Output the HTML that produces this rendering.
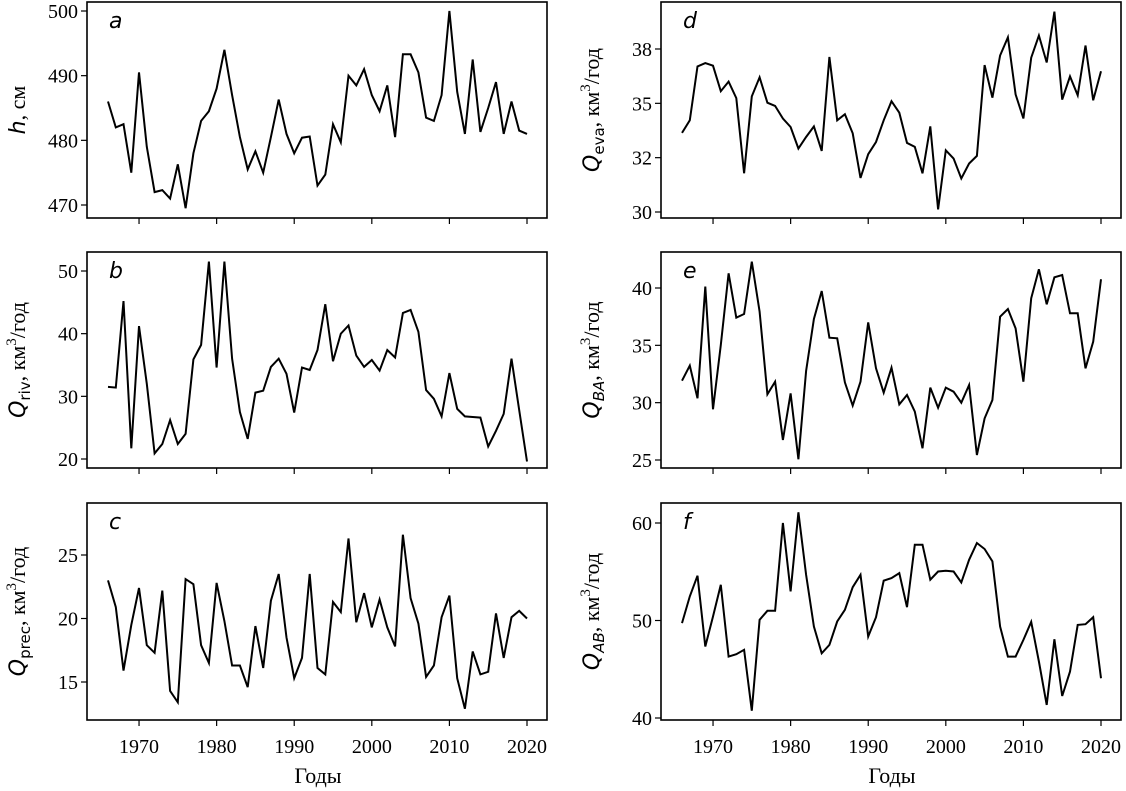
<!DOCTYPE html>
<html><head><meta charset="utf-8"><style>
html,body{margin:0;padding:0;background:#fff;}
svg{display:block;}
.tk{font-family:"Liberation Serif",serif;font-size:20px;fill:#000;}
.lt{font-family:"DejaVu Sans",sans-serif;font-style:italic;font-size:22px;fill:#000;}
.yl{font-family:"Liberation Serif",serif;font-size:22px;fill:#000;}
.yi{font-family:"DejaVu Sans",sans-serif;font-style:italic;}
</style></head><body>
<svg id="chart" width="1126" height="791" xmlns="http://www.w3.org/2000/svg"></svg>
<script>
const years = [];
for (let y = 1966; y <= 2020; y++) years.push(y);
const xTicks = [1970, 1980, 1990, 2000, 2010, 2020];
const seriesH = [486,482,482.5,475,490.5,479,472,472.3,471,476.3,469.5,478,483,484.5,488,494,487,480.5,475.5,478.3,475,480.5,486.3,481,478,480.4,480.6,473,474.7,482.5,479.7,490,488.5,491,487,484.5,488.5,480.5,493.3,493.3,490.5,483.5,483,487,500,487.5,481,492.5,481.3,485,489,481,486,481.5,481];
const seriesRiv = [31.5,31.4,45.2,21.7,41.2,32,20.9,22.4,26.2,22.4,24,35.9,38.2,51.5,34.6,51.5,36,27.5,23.2,30.6,30.9,34.7,36,33.6,27.4,34.6,34.2,37.4,44.7,35.6,40,41.3,36.5,34.7,35.8,34.1,37.4,36.2,43.3,43.8,40.3,31,29.6,26.8,33.7,28,26.8,26.7,26.6,22,24.5,27.2,36,27.8,19.6];
const seriesPrec = [23,20.9,15.9,19.5,22.4,17.9,17.3,22.2,14.3,13.4,23.1,22.7,17.9,16.5,22.8,19.8,16.3,16.3,14.6,19.4,16.1,21.4,23.5,18.5,15.3,16.9,23.5,16.1,15.6,21.3,20.5,26.3,19.7,22,19.3,21.5,19.3,17.8,26.6,21.6,19.6,15.4,16.3,20.1,21.8,15.3,12.9,17.4,15.6,15.8,20.4,16.9,20.1,20.6,20];
const seriesEva = [33.64,34.22,36.7,36.85,36.73,35.56,36.0,35.24,31.78,35.32,36.2,35.03,34.88,34.3,33.91,32.92,33.45,33.94,32.81,37.13,34.22,34.5,33.62,31.57,32.66,33.22,34.22,35.1,34.57,33.18,33.0,31.78,33.94,30.12,32.84,32.46,31.54,32.23,32.58,36.76,35.26,37.2,38.04,35.41,34.3,37.1,38.12,36.88,39.22,35.17,36.24,35.37,37.66,35.14,36.48];
const seriesBA = [31.92,33.23,30.38,40.12,29.42,35.03,41.28,37.41,37.73,42.3,37.94,30.73,31.83,26.74,30.81,25.06,32.76,37.3,39.74,35.67,35.61,31.77,29.74,31.83,37.0,33.0,30.87,33.05,29.85,30.67,29.22,26.02,31.31,29.56,31.31,30.96,30.0,31.54,25.44,28.63,30.23,37.5,38.17,36.48,31.83,39.1,41.63,38.58,40.93,41.13,37.79,37.79,33.0,35.32,40.76];
const seriesAB = [49.73,52.47,54.59,47.33,50.41,53.66,46.3,46.54,46.99,40.75,50.07,50.99,50.99,60,52.98,61.1,54.69,49.38,46.64,47.5,49.9,51.1,53.42,54.69,48.36,50.34,54.08,54.35,54.86,51.37,57.77,57.77,54.18,55.03,55.1,55.03,53.9,56.23,57.95,57.33,56.06,49.38,46.3,46.3,48.01,49.86,45.79,41.34,48.08,42.26,44.76,49.55,49.62,50.34,44.08];
const ticksH = [470,480,490,500];
const ticksRiv = [20,30,40,50];
const ticksPrec = [15,20,25];
const ticksEva = [30,32.5,35,37.5];
const ticksEvaLabels = ["30","32","35","38"];
const ticksBA = [25,30,35,40];
const ticksAB = [40,50,60];

const NS = "http://www.w3.org/2000/svg";
const svg = document.getElementById('chart');
function mk(tag, attrs, parent) {
  const e = document.createElementNS(NS, tag);
  for (const k in attrs) e.setAttribute(k, attrs[k]);
  (parent || svg).appendChild(e);
  return e;
}
// panel geometry: frame and calibrated y mapping (v0->p0, v1->p1)
const panels = [
  {id:'a', data:seriesH, ticks:ticksH, labels:null, fx:87, fy:2, fb:218, v0:470, p0:205, v1:500, p1:11, ylab:['h', ', см', null]},
  {id:'b', data:seriesRiv, ticks:ticksRiv, labels:null, fx:87, fy:252, fb:468, v0:20, p0:459, v1:50, p1:271, ylab:['Q', ', км', 'riv']},
  {id:'c', data:seriesPrec, ticks:ticksPrec, labels:null, fx:87, fy:503, fb:720, v0:15, p0:682, v1:25, p1:555, ylab:['Q', ', км', 'prec']},
  {id:'d', data:seriesEva, ticks:ticksEva, labels:ticksEvaLabels, fx:661, fy:2, fb:218, v0:30, p0:212, v1:37.5, p1:49, ylab:['Q', ', км', 'eva']},
  {id:'e', data:seriesBA, ticks:ticksBA, labels:null, fx:661, fy:252, fb:468, v0:25, p0:460, v1:40, p1:288, ylab:['Q', ', км', 'BA']},
  {id:'f', data:seriesAB, ticks:ticksAB, labels:null, fx:661, fy:503, fb:720, v0:40, p0:718, v1:60, p1:523, ylab:['Q', ', км', 'AB']}
];
const FW = 460;
panels.forEach((P, pi) => {
  const g = mk('g', {});
  
  
  const xs = v => P.fx + 21 + (v - 1966) * (419 / 54);
  const ys = v => P.p0 + (v - P.v0) * (P.p1 - P.p0) / (P.v1 - P.v0);
  // line
  const d = P.data.map((v, i) => (i ? 'L' : 'M') + xs(years[i]).toFixed(1) + ',' + ys(v).toFixed(1)).join(' ');
  const path = mk('path', {d: d, fill: 'none', stroke: '#000', 'stroke-width': 2, 'stroke-linejoin': 'miter'}, g);
  
  
  // frame
  const fr = mk('rect', {x: P.fx, y: P.fy, width: FW, height: P.fb - P.fy, fill: 'none', stroke: '#000', 'stroke-width': 1.6}, g);
  
  
  // y ticks
  P.ticks.forEach((t, i) => {
    const y = ys(t);
    mk('line', {x1: P.fx - 6, x2: P.fx, y1: y, y2: y, stroke: '#000', 'stroke-width': 1.2}, g);
    const tx = mk('text', {x: P.fx - 9, y: y + 7, 'text-anchor': 'end', class: 'tk'}, g);
    tx.textContent = P.labels ? P.labels[i] : String(t);
    
    
  });
  // x ticks
  xTicks.forEach(t => {
    const x = xs(t);
    mk('line', {x1: x, x2: x, y1: P.fb, y2: P.fb + 6, stroke: '#000', 'stroke-width': 1.2}, g);
    if (pi % 3 === 2) {
      const tx = mk('text', {x: x, y: P.fb + 33, 'text-anchor': 'middle', class: 'tk'}, g);
      tx.textContent = String(t);
      
      
    }
  });
  if (pi % 3 === 2) {
    const xl = mk('text', {x: P.fx + FW / 2 + 1, y: 783, 'text-anchor': 'middle', class: 'yl'}, g);
    xl.textContent = 'Годы';
    
    
  }
  // panel letter
  const lt = mk('text', {x: P.fx + 22, y: P.fy + 26, class: 'lt'}, g);
  lt.textContent = P.id;
  
  
  // y axis title
  const cy = (P.fy + P.fb) / 2;
  const lx = P.fx - 62;
  const yt = mk('text', {x: 0, y: 0, 'text-anchor': 'middle', class: 'yl', transform: 'translate(' + lx + ',' + cy + ') rotate(-90)'}, g);
  
  
  const s1 = mk('tspan', {class: 'yi'}, yt); s1.textContent = P.ylab[0];
  if (P.ylab[2]) {
    const isItal = (P.ylab[2] === 'BA' || P.ylab[2] === 'AB');
    const s2 = mk('tspan', {dy: 5, 'font-size': '15', 'font-family': '"DejaVu Sans",sans-serif', 'font-style': isItal ? 'italic' : 'normal'}, yt);
    s2.textContent = P.ylab[2];
    const s3 = mk('tspan', {dy: -5}, yt); s3.textContent = ', км';
    const s4 = mk('tspan', {dy: -9, 'font-size': '15'}, yt); s4.textContent = '3';
    const s5 = mk('tspan', {dy: 9}, yt); s5.textContent = '/год';
  } else {
    const s3 = mk('tspan', {}, yt); s3.textContent = ', см';
  }
});
</script>
</body></html>
